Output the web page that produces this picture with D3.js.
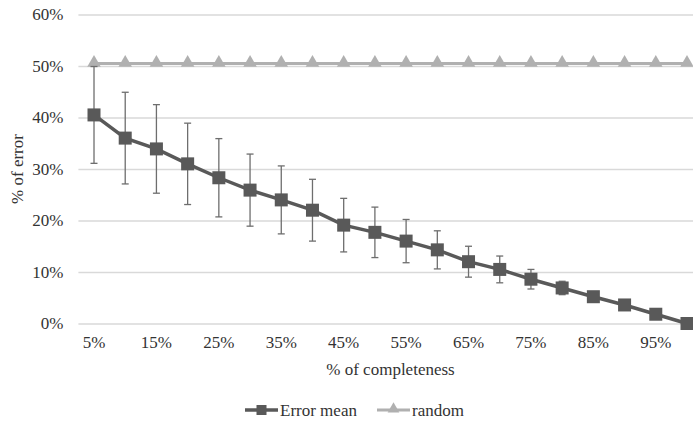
<!DOCTYPE html>
<html>
<head>
<meta charset="utf-8">
<script src="https://cdn.jsdelivr.net/npm/d3@7"></script>
</head>
<body style="margin:0;background:#fff">
<div id="chart"></div>
<script>
const categories = ["5%", "10%", "15%", "20%", "25%", "30%", "35%", "40%", "45%", "50%",
  "55%", "60%", "65%", "70%", "75%", "80%", "85%", "90%", "95%", "100%"];
const errorMean = [40.5, 36.0, 33.9, 31.0, 28.3, 25.9, 24.0, 22.0, 19.1, 17.7,
  16.0, 14.3, 12.0, 10.5, 8.6, 6.9, 5.2, 3.6, 1.8, 0.0];
const errorDev = [9.4, 8.9, 8.6, 7.9, 7.6, 7.0, 6.6, 6.0, 5.2, 4.9,
  4.2, 3.7, 3.0, 2.6, 1.9, 1.3, 0, 0, 0, 0];
const random = [50.5, 50.5, 50.5, 50.5, 50.5, 50.5, 50.5, 50.5, 50.5, 50.5,
  50.5, 50.5, 50.5, 50.5, 50.5, 50.5, 50.5, 50.5, 50.5, 50.5];
const yTicks = [0, 10, 20, 30, 40, 50, 60];
const xTickLabels = ["5%", "15%", "25%", "35%", "45%", "55%", "65%", "75%", "85%", "95%"];

const W = 693, H = 425;
const m = { left: 78.4, right: 702.6, top: 14.5, bottom: 323.5 };
const textColor = "#333333";
const FONT = "Liberation Serif";

const svg = d3.select("#chart").append("svg")
  .attr("width", W)
  .attr("height", H)
  .attr("font-family", FONT)
  .style("display", "block");

const x = d3.scaleBand().domain(categories).range([m.left, m.right]);
const cx = c => x(c) + x.bandwidth() / 2;
const y = d3.scaleLinear().domain([0, 60]).range([m.bottom, m.top]);

// gridlines + y labels
const yAxis = svg.append("g")
  .attr("transform", `translate(${m.left},0)`)
  .call(d3.axisLeft(y).tickValues(yTicks).tickSize(-(m.right - m.left)).tickPadding(15).tickFormat(d => d + "%"))
  .attr("font-family", FONT)
  .attr("font-size", 17);
yAxis.select(".domain").remove();
yAxis.selectAll(".tick line").attr("stroke", "#d9d9d9").attr("stroke-width", 1.3);
yAxis.selectAll(".tick text").attr("fill", textColor);

// x labels
const xAxis = svg.append("g")
  .attr("transform", `translate(0,${m.bottom})`)
  .call(d3.axisBottom(x).tickValues(xTickLabels).tickSize(0).tickPadding(12))
  .attr("font-family", FONT)
  .attr("font-size", 17);
xAxis.select(".domain").remove();
xAxis.selectAll(".tick text").attr("fill", textColor);

// axis titles
svg.append("text")
  .attr("x", (m.left + m.right) / 2)
  .attr("y", 375)
  .attr("text-anchor", "middle")
  .attr("fill", textColor)
  .attr("font-family", FONT)
  .attr("font-size", 17)
  .text("% of completeness");

svg.append("text")
  .attr("transform", `translate(23,${(m.top + m.bottom) / 2}) rotate(-90)`)
  .attr("text-anchor", "middle")
  .attr("fill", textColor)
  .attr("font-family", FONT)
  .attr("font-size", 17)
  .text("% of error");

const meanData = categories.map((c, i) => ({ c, v: errorMean[i], d: errorDev[i] }));
const randData = categories.map((c, i) => ({ c, v: random[i] }));

// random series
svg.append("path")
  .datum(randData)
  .attr("fill", "none")
  .attr("stroke", "#b0b0b0")
  .attr("stroke-width", 3)
  .attr("d", d3.line().x(d => cx(d.c)).y(d => y(d.v)));

const tri = d3.symbol().type(d3.symbolTriangle).size(80);
svg.append("g").selectAll("path")
  .data(randData)
  .join("path")
  .attr("transform", d => `translate(${cx(d.c)},${y(d.v) - 0.5})`)
  .attr("d", tri)
  .attr("fill", "#b0b0b0");

// error bars
const bars = svg.append("g")
  .attr("stroke", "#6e6e6e")
  .attr("stroke-width", 1.3);
meanData.filter(d => d.d > 0).forEach(d => {
  const X = cx(d.c);
  bars.append("line").attr("x1", X).attr("x2", X).attr("y1", y(d.v + d.d)).attr("y2", y(d.v - d.d));
  bars.append("line").attr("x1", X - 3.5).attr("x2", X + 3.5).attr("y1", y(d.v + d.d)).attr("y2", y(d.v + d.d));
  bars.append("line").attr("x1", X - 3.5).attr("x2", X + 3.5).attr("y1", y(d.v - d.d)).attr("y2", y(d.v - d.d));
});

// error mean series
svg.append("path")
  .datum(meanData)
  .attr("fill", "none")
  .attr("stroke", "#595959")
  .attr("stroke-width", 3.5)
  .attr("d", d3.line().x(d => cx(d.c)).y(d => y(d.v)));

svg.append("g").selectAll("rect")
  .data(meanData)
  .join("rect")
  .attr("x", d => cx(d.c) - 6.5)
  .attr("y", d => y(d.v) - 6.5)
  .attr("width", 13)
  .attr("height", 13)
  .attr("fill", "#595959");

// legend
const leg = svg.append("g").attr("font-family", FONT).attr("font-size", 17);
leg.append("line").attr("x1", 245).attr("x2", 278).attr("y1", 410).attr("y2", 410)
  .attr("stroke", "#595959").attr("stroke-width", 3.5);
leg.append("rect").attr("x", 256.5).attr("y", 405).attr("width", 10).attr("height", 10).attr("fill", "#595959");
leg.append("text").attr("x", 280).attr("y", 416).attr("fill", textColor).text("Error mean");

leg.append("line").attr("x1", 377).attr("x2", 410).attr("y1", 410).attr("y2", 410)
  .attr("stroke", "#b0b0b0").attr("stroke-width", 3);
leg.append("path").attr("transform", "translate(393.5,409)").attr("d", d3.symbol().type(d3.symbolTriangle).size(60))
  .attr("fill", "#b0b0b0");
leg.append("text").attr("x", 412).attr("y", 416).attr("fill", textColor).text("random");
</script>
</body>
</html>
